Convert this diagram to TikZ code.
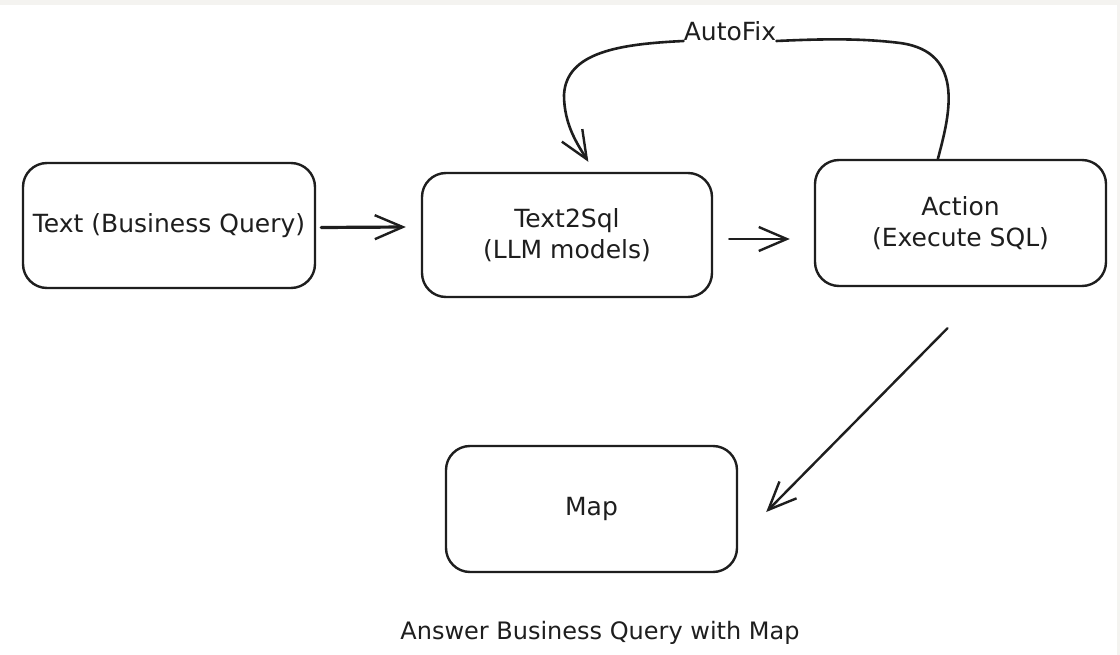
\documentclass[tikz,border=0pt]{standalone}
\usepackage{fontspec}
\setmainfont{DejaVu Sans}
\usetikzlibrary{arrows.meta,calc}
\definecolor{ink}{HTML}{1E1E1E}
\definecolor{frame}{HTML}{F4F3F0}
\tikzset{
  box/.style={draw=ink, line width=2.4pt, rounded corners=24pt, align=center,
    inner sep=0pt, font=\fontsize{25}{31}\selectfont, text=ink},
  lbl/.style={font=\fontsize{25}{31}\selectfont, text=ink, inner sep=0pt},
  conn/.style={draw=ink, line width=2.4pt, line cap=round, line join=round,
    -{Straight Barb[length=28pt,width=24pt,line width=2.4pt]}},
}
\begin{document}
\begin{tikzpicture}[x=1pt,y=-1pt]
\useasboundingbox (0,0) rectangle (1120,655);
\fill[frame] (0,0) rectangle (1120,655);
\fill[white] (0,5) rectangle (1117,655);

\node[box, minimum width=292pt, minimum height=125pt] (a) at (169,225.5) {Text (Business Query)};
\node[box, minimum width=290pt, minimum height=124pt] (b) at (567,235) {Text2Sql\\(LLM models)};
\node[box, minimum width=291pt, minimum height=126pt] (c) at (960.5,223) {Action\\(Execute SQL)};
\node[box, minimum width=291pt, minimum height=126pt] (d) at (591.5,509) {Map};

\node[lbl, anchor=base] (af) at (730,41) {AutoFix};
\node[lbl, anchor=base, font=\fontsize{24}{30}\selectfont] (cap) at (600,639) {Answer Business Query with Map};

\coordinate (ab1) at ($(a.east)+(5,2)$);
\coordinate (ab2) at ($(b.west)+(-15,-8)$);
\coordinate (bc1) at ($(b.east)+(16,4)$);
\coordinate (bc2) at ($(c.west)+(-24,16)$);
\coordinate (cd1) at ($(c.south)+(-13,41)$);
\coordinate (cd2) at ($(d.east)+(28,3)$);
\coordinate (loop1) at ($(c.north west)!0.423!(c.north east)$);
\coordinate (loop2) at ($(b.north west)!0.573!(b.north east)+(0,-10)$);

\draw[conn, line width=3.2pt] (ab1) -- (ab2);
\draw[conn] (bc1) -- (bc2);
\draw[conn] (cd1) -- (cd2);

\draw[draw=ink, line width=2.6pt, line cap=round]
  (loop1) .. controls (948,120) and (968,52) .. (900,43)
  .. controls (860,38) and (820,39) .. (af.base east);
\draw[conn, line width=2.6pt]
  (af.base west) .. controls (620,44) and (566,52) .. (564,95)
  .. controls (564,125) and (578,145) .. (loop2);
\end{tikzpicture}
\end{document}
